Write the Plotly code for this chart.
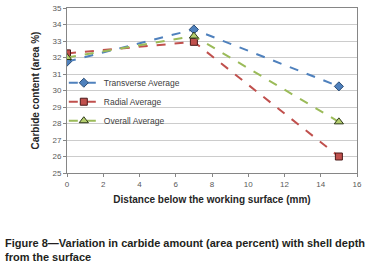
import plotly.graph_objects as go

distance = [0, 7, 15]
transverse = [31.75, 33.7, 30.25]
radial = [32.25, 32.95, 26.0]
overall = [32.0, 33.3, 28.1]
series_names = ["Transverse Average", "Radial Average", "Overall Average"]
x_ticks = [0, 2, 4, 6, 8, 10, 12, 14, 16]
y_ticks = [25, 26, 27, 28, 29, 30, 31, 32, 33, 34, 35]

fig = go.Figure()
fig.add_trace(go.Scatter(
    x=distance, y=transverse, name=series_names[0], mode="lines+markers",
    line=dict(color="#4F81BD", width=2, dash="dash"),
    marker=dict(symbol="diamond", size=7, color="#4F81BD", line=dict(color="#2C4D75", width=1))))
fig.add_trace(go.Scatter(
    x=distance, y=radial, name=series_names[1], mode="lines+markers",
    line=dict(color="#C0504D", width=2, dash="dash"),
    marker=dict(symbol="square", size=7, color="#C0504D", line=dict(color="#4A1A19", width=1))))
fig.add_trace(go.Scatter(
    x=distance, y=overall, name=series_names[2], mode="lines+markers",
    line=dict(color="#9BBB59", width=2, dash="dash"),
    marker=dict(symbol="triangle-up", size=8, color="#B5CF6E", line=dict(color="#2F3A1A", width=1))))

axis_common = dict(showline=True, linecolor="#868686", linewidth=1, mirror=True,
                   ticks="outside", ticklen=3, tickcolor="#868686",
                   tickfont=dict(family="Liberation Sans", size=8, color="#595959"),
                   zeroline=False, automargin=False)

fig.update_xaxes(range=[0, 16], tickvals=x_ticks, showgrid=False,
                 title=dict(text="<b>Distance below the working surface (mm)</b>",
                            font=dict(family="Liberation Sans", size=10, color="#262626"),
                            standoff=8),
                 **axis_common)
fig.update_yaxes(range=[25, 35], tickvals=y_ticks, showgrid=True, gridcolor="#CCCCCC", gridwidth=1,
                 title=dict(text="<b>Carbide content (area %)</b>",
                            font=dict(family="Liberation Sans", size=10, color="#262626"),
                            standoff=10),
                 **axis_common)

fig.add_annotation(
    text="<b>Figure 8—Variation in carbide amount (area percent) with shell depth<br>from the surface</b>",
    xref="paper", yref="paper", x=-0.2207, y=-0.376, xanchor="left", yanchor="top",
    align="left", showarrow=False,
    font=dict(family="Liberation Sans", size=11, color="#231F20"))

fig.update_layout(
    width=389, height=276,
    margin=dict(l=67, r=32, t=8, b=103, autoexpand=False),
    paper_bgcolor="white", plot_bgcolor="white",
    legend=dict(x=-0.011, y=0.635, xanchor="left", yanchor="top",
                bgcolor="rgba(255,255,255,0)", borderwidth=0,
                font=dict(family="Liberation Sans", size=8.5, color="#404040"),
                itemwidth=30),
    showlegend=True,
)

fig.write_html("out.html", config={"displayModeBar": False},
               post_script="document.body.style.margin='0';")
